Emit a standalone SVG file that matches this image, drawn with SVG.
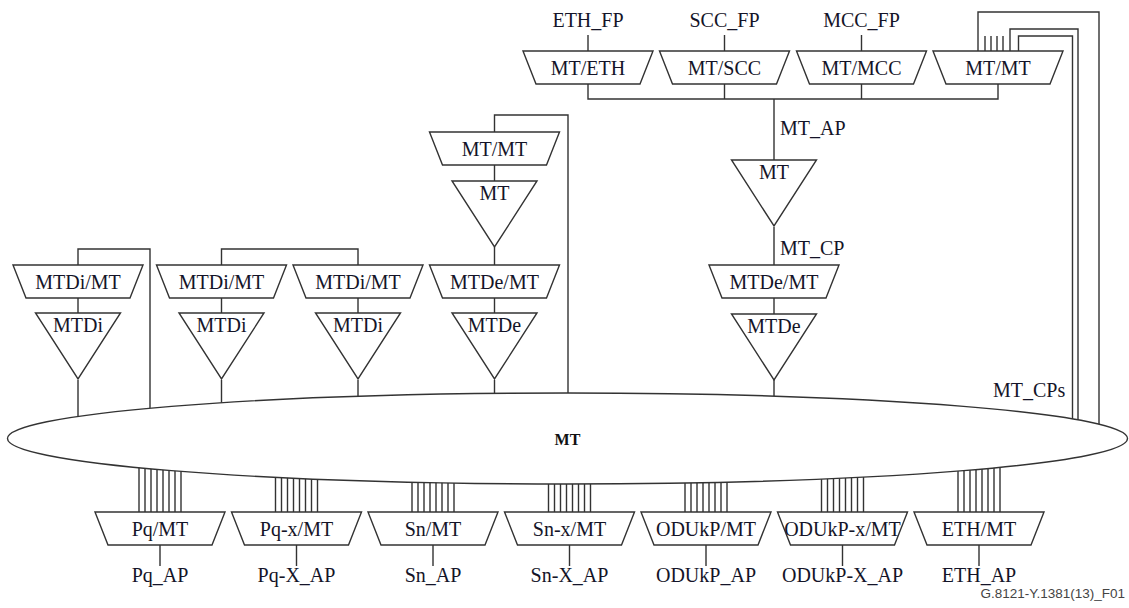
<svg xmlns="http://www.w3.org/2000/svg" xmlns:xlink="http://www.w3.org/1999/xlink" width="1129" height="608" viewBox="0 0 1129 608">
<style>
.s{fill:#fff;stroke:#333;stroke-width:1.4}
.w{fill:none;stroke:#333;stroke-width:1.4}
.t{font-family:"Liberation Serif","Times New Roman",serif;font-size:20px;fill:#141428;text-anchor:middle}
.l{font-family:"Liberation Serif","Times New Roman",serif;font-size:20px;fill:#141428}
.b{font-family:"Liberation Serif","Times New Roman",serif;font-size:16px;font-weight:bold;fill:#111;text-anchor:middle}
.f{font-family:"Liberation Sans",Arial,sans-serif;font-size:13.5px;fill:#444;text-anchor:end}
</style>
<defs>
<polygon id="trap" points="-65,0 65,0 52,33 -52,33" class="s"/>
<polygon id="tri" points="-42.5,0 42.5,0 0,66" class="s"/>
</defs>
<rect width="1129" height="608" fill="#fff"/>
<g id="connectors" class="w">
<path d="M588,35V51M724.5,35V51M861.5,35V51"/>
<path d="M588,84V99H998V84M724.5,84V99M861.5,84V99"/>
<path d="M774,99V160M774,227V265M774,298V314M774,380V440"/>
<path d="M978,51V12H1099V440"/>
<path d="M1010,51V29H1078V440"/>
<path d="M1018.5,51V36H1072.5V440"/>
<path d="M985,36V51M991,36V51M997,36V51M1003,36V51"/>
<path d="M494.5,132V115H568V440"/>
<path d="M494.5,165V181M494.5,247V265M494.5,298V313M494.5,380V440"/>
<path d="M78,265V249H150V440"/>
<path d="M221.5,265V249H358V265"/>
<path d="M78,298V313M78,380V440M221.5,298V313M221.5,380V440M358,298V313M358,380V440"/>
<g id="stubs">
<path d="M139,440V512M145,440V512M151,440V512M157,440V512M163,440V512M169,440V512M175,440V512M181,440V512"/>
<path d="M275.5,440V512M281.5,440V512M287.5,440V512M293.5,440V512M299.5,440V512M305.5,440V512M311.5,440V512M317.5,440V512"/>
<path d="M412,440V512M418,440V512M424,440V512M430,440V512M436,440V512M442,440V512M448,440V512M454,440V512"/>
<path d="M548.5,440V512M554.5,440V512M560.5,440V512M566.5,440V512M572.5,440V512M578.5,440V512M584.5,440V512M590.5,440V512"/>
<path d="M685,440V512M691,440V512M697,440V512M703,440V512M709,440V512M715,440V512M721,440V512M727,440V512"/>
<path d="M821.5,440V512M827.5,440V512M833.5,440V512M839.5,440V512M845.5,440V512M851.5,440V512M857.5,440V512M863.5,440V512"/>
<path d="M958,440V512M964,440V512M970,440V512M976,440V512M982,440V512M988,440V512M994,440V512M1000,440V512"/>
</g>
<path d="M160,545V566M296.5,545V566M433,545V566M569.5,545V566M706,545V566M842.5,545V566M979,545V566"/>
</g>
<g id="mt-ellipse">
<ellipse cx="567.5" cy="438.5" rx="560" ry="45.5" class="s"/>
<text x="567.5" y="445" class="b">MT</text>
</g>
<g id="fp-labels">
<text x="588" y="27" class="t">ETH_FP</text>
<text x="724.5" y="27" class="t">SCC_FP</text>
<text x="861.5" y="27" class="t">MCC_FP</text>
</g>
<g id="n-mt-eth"><use xlink:href="#trap" x="588" y="51"/><text x="588" y="75" class="t">MT/ETH</text></g>
<g id="n-mt-scc"><use xlink:href="#trap" x="724.5" y="51"/><text x="724.5" y="75" class="t">MT/SCC</text></g>
<g id="n-mt-mcc"><use xlink:href="#trap" x="861.5" y="51"/><text x="861.5" y="75" class="t">MT/MCC</text></g>
<g id="n-mt-mt-top"><use xlink:href="#trap" x="998" y="51"/><text x="998" y="75" class="t">MT/MT</text></g>
<g id="ap-cp-labels">
<text x="780" y="135" class="l">MT_AP</text>
<text x="780" y="255" class="l">MT_CP</text>
<text x="993" y="397" class="l">MT_CPs</text>
</g>
<g id="n-mt-tt-right"><use xlink:href="#tri" x="774" y="160"/><text x="774" y="179" class="t">MT</text></g>
<g id="n-mtde-mt-right"><use xlink:href="#trap" x="774" y="265"/><text x="774" y="289" class="t">MTDe/MT</text></g>
<g id="n-mtde-right"><use xlink:href="#tri" x="774" y="314"/><text x="774" y="333" class="t">MTDe</text></g>
<g id="n-mt-mt-mid"><use xlink:href="#trap" x="494.5" y="132"/><text x="494.5" y="156" class="t">MT/MT</text></g>
<g id="n-mt-tt-mid"><use xlink:href="#tri" x="494.5" y="181"/><text x="494.5" y="200" class="t">MT</text></g>
<g id="n-mtde-mt-mid"><use xlink:href="#trap" x="494.5" y="265"/><text x="494.5" y="289" class="t">MTDe/MT</text></g>
<g id="n-mtde-mid"><use xlink:href="#tri" x="494.5" y="313"/><text x="494.5" y="332" class="t">MTDe</text></g>
<g id="n-mtdi-mt-1"><use xlink:href="#trap" x="78" y="265"/><text x="78" y="289" class="t">MTDi/MT</text></g>
<g id="n-mtdi-1"><use xlink:href="#tri" x="78" y="313"/><text x="78" y="332" class="t">MTDi</text></g>
<g id="n-mtdi-mt-2"><use xlink:href="#trap" x="221.5" y="265"/><text x="221.5" y="289" class="t">MTDi/MT</text></g>
<g id="n-mtdi-2"><use xlink:href="#tri" x="221.5" y="313"/><text x="221.5" y="332" class="t">MTDi</text></g>
<g id="n-mtdi-mt-3"><use xlink:href="#trap" x="358" y="265"/><text x="358" y="289" class="t">MTDi/MT</text></g>
<g id="n-mtdi-3"><use xlink:href="#tri" x="358" y="313"/><text x="358" y="332" class="t">MTDi</text></g>
<g id="n-pq-mt"><use xlink:href="#trap" x="160" y="512"/><text x="160" y="536" class="t">Pq/MT</text><text x="160" y="582" class="t">Pq_AP</text></g>
<g id="n-pqx-mt"><use xlink:href="#trap" x="296.5" y="512"/><text x="296.5" y="536" class="t">Pq-x/MT</text><text x="296.5" y="582" class="t">Pq-X_AP</text></g>
<g id="n-sn-mt"><use xlink:href="#trap" x="433" y="512"/><text x="433" y="536" class="t">Sn/MT</text><text x="433" y="582" class="t">Sn_AP</text></g>
<g id="n-snx-mt"><use xlink:href="#trap" x="569.5" y="512"/><text x="569.5" y="536" class="t">Sn-x/MT</text><text x="569.5" y="582" class="t">Sn-X_AP</text></g>
<g id="n-odukp-mt"><use xlink:href="#trap" x="706" y="512"/><text x="706" y="536" class="t">ODUkP/MT</text><text x="706" y="582" class="t">ODUkP_AP</text></g>
<g id="n-odukpx-mt"><use xlink:href="#trap" x="842.5" y="512"/><text x="842.5" y="536" class="t">ODUkP-x/MT</text><text x="842.5" y="582" class="t">ODUkP-X_AP</text></g>
<g id="n-eth-mt"><use xlink:href="#trap" x="979" y="512"/><text x="979" y="536" class="t">ETH/MT</text><text x="979" y="582" class="t">ETH_AP</text></g>
<text x="1125" y="598" class="f">G.8121-Y.1381(13)_F01</text>
</svg>
